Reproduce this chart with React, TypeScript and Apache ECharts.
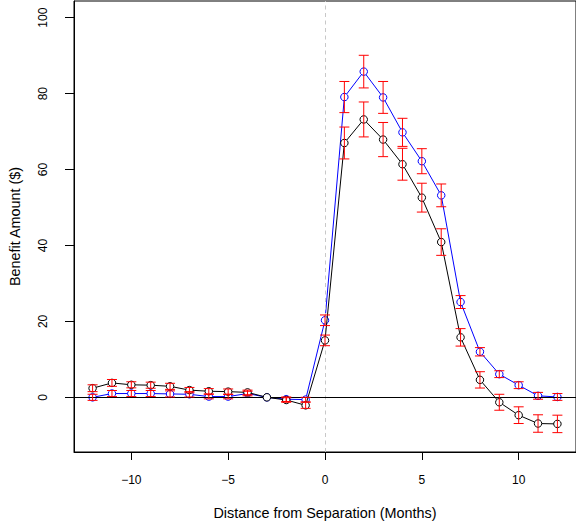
import React, { useEffect, useRef } from "react";
import * as echarts from "echarts";

const months = [-12, -11, -10, -9, -8, -7, -6, -5, -4, -3, -2, -1, 0, 1, 2, 3, 4, 5, 6, 7, 8, 9, 10, 11, 12];
const blackVals = [2.4, 3.8, 3.3, 3.2, 2.9, 1.9, 1.6, 1.5, 1.3, 0, -0.7, -2.1, 15.0, 67.0, 73.2, 67.9, 61.4, 52.6, 40.9, 15.8, 4.6, -1.3, -4.7, -6.9, -7.0];
const blackSE = [0.9, 0.9, 0.8, 0.8, 0.8, 0.7, 0.7, 0.7, 0.6, 0, 0.6, 0.8, 1.4, 4.2, 4.6, 4.5, 4.2, 3.8, 3.5, 2.3, 2.15, 2.1, 2.2, 2.3, 2.3];
const blueVals = [0, 1.0, 1.0, 1.0, 0.9, 0.8, 0.2, 0.2, 1.0, 0, -0.5, -0.6, 20.3, 79.1, 85.8, 79.0, 69.8, 62.2, 53.2, 25.1, 12.0, 6.1, 3.2, 0.4, 0.1];
const blueSE = [0.8, 0.8, 0.8, 0.8, 0.8, 0.7, 0.6, 0.6, 0.6, 0, 0.6, 0.6, 1.4, 4.1, 4.3, 4.2, 3.7, 3.3, 3.0, 1.7, 1.1, 0.9, 0.9, 0.9, 0.9];

const xTicks = [-10, -5, 0, 5, 10];
const yTicks = [0, 20, 40, 60, 80, 100];

const FONT = "Liberation Sans, Arial, Helvetica, sans-serif";

export default function App() {
  const ref = useRef<HTMLDivElement>(null);
  useEffect(() => {
    if (!ref.current) return;
    const chart = echarts.init(ref.current, null, { renderer: "svg" });

    const errData = (vals: number[], se: number[]) =>
      months.map((m, i) => [m, vals[i] - se[i], vals[i] + se[i], se[i]]);

    const errSeries = (name: string, vals: number[], se: number[]) => ({
      name,
      type: "custom",
      z: 10,
      silent: true,
      data: errData(vals, se),
      encode: { x: 0, y: [1, 2] },
      renderItem: (params: any, api: any) => {
        if (api.value(3) === 0) return null;
        const x = api.value(0);
        const lo = api.coord([x, api.value(1)]);
        const hi = api.coord([x, api.value(2)]);
        const w = 5;
        const style = { stroke: "#ff0000", lineWidth: 1 };
        return {
          type: "group",
          children: [
            { type: "line", shape: { x1: lo[0], y1: lo[1], x2: hi[0], y2: hi[1] }, style },
            { type: "line", shape: { x1: lo[0] - w, y1: lo[1], x2: lo[0] + w, y2: lo[1] }, style },
            { type: "line", shape: { x1: hi[0] - w, y1: hi[1], x2: hi[0] + w, y2: hi[1] }, style },
          ],
        };
      },
    });

    const lineSeries = (name: string, vals: number[], color: string, z: number) => ({
      name,
      type: "line",
      z,
      data: months.map((m, i) => [m, vals[i]]),
      showSymbol: false,
      symbol: "none",
      lineStyle: { color, width: 1 },
    });

    const pointSeries = (name: string, vals: number[], color: string, z: number) => ({
      name,
      type: "scatter",
      z,
      silent: true,
      data: months.map((m, i) => [m, vals[i]]),
      symbol: "circle",
      symbolSize: 7.5,
      itemStyle: { color: "#ffffff", borderColor: color, borderWidth: 1, opacity: 1 },
    });

    chart.setOption({
      animation: false,
      backgroundColor: "#ffffff",
      grid: {
        left: 73,
        top: 1,
        width: 504,
        height: 451,
        show: true,
        borderColor: "#000000",
        borderWidth: 1,
        backgroundColor: "transparent",
      },
      xAxis: {
        type: "value",
        min: -12.96,
        max: 12.96,
        name: "Distance from Separation (Months)",
        nameLocation: "middle",
        nameGap: 54,
        nameTextStyle: { fontFamily: FONT, fontSize: 14.4, color: "#000" },
        axisLine: { show: true, onZero: false, lineStyle: { color: "#000", width: 1 } },
        splitLine: { show: false },
        axisTick: { show: true, customValues: xTicks, length: 8, lineStyle: { color: "#000", width: 1 } },
        axisLabel: {
          customValues: xTicks,
          margin: 22,
          fontFamily: FONT,
          fontSize: 12,
          color: "#000",
          formatter: (v: number) => String(v).replace("-", "\u2212"),
        },
      },
      yAxis: {
        type: "value",
        min: -14.4,
        max: 104.4,
        name: "Benefit Amount ($)",
        nameLocation: "middle",
        nameGap: 52,
        nameTextStyle: { fontFamily: FONT, fontSize: 14.4, color: "#000" },
        axisLine: { show: true, onZero: false, lineStyle: { color: "#000", width: 1 } },
        splitLine: { show: false },
        axisTick: { show: true, customValues: yTicks, length: 9, lineStyle: { color: "#000", width: 1 } },
        axisLabel: {
          customValues: yTicks,
          rotate: 90,
          margin: 25,
          fontFamily: FONT,
          fontSize: 12,
          color: "#000",
        },
      },
      series: [
        {
          name: "refs",
          type: "line",
          z: 1,
          data: [],
          silent: true,
          markLine: {
            silent: true,
            symbol: "none",
            label: { show: false },
            animation: false,
            data: [
              { xAxis: 0, lineStyle: { color: "#c8c8c8", type: [4, 3.5], width: 1 } },
              { yAxis: 0, lineStyle: { color: "#000000", type: "solid", width: 1 } },
            ],
          },
        },
        lineSeries("blue", blueVals, "#0000ff", 3),
        pointSeries("bluePts", blueVals, "#0000ff", 4),
        lineSeries("black", blackVals, "#000000", 5),
        pointSeries("blackPts", blackVals, "#000000", 6),
        errSeries("blueErr", blueVals, blueSE),
        errSeries("blackErr", blackVals, blackSE),
      ],
    });
    return () => chart.dispose();
  }, []);
  return <div ref={ref} style={{ position: "fixed", left: 0, top: 0, width: 576, height: 531 }} />;
}
